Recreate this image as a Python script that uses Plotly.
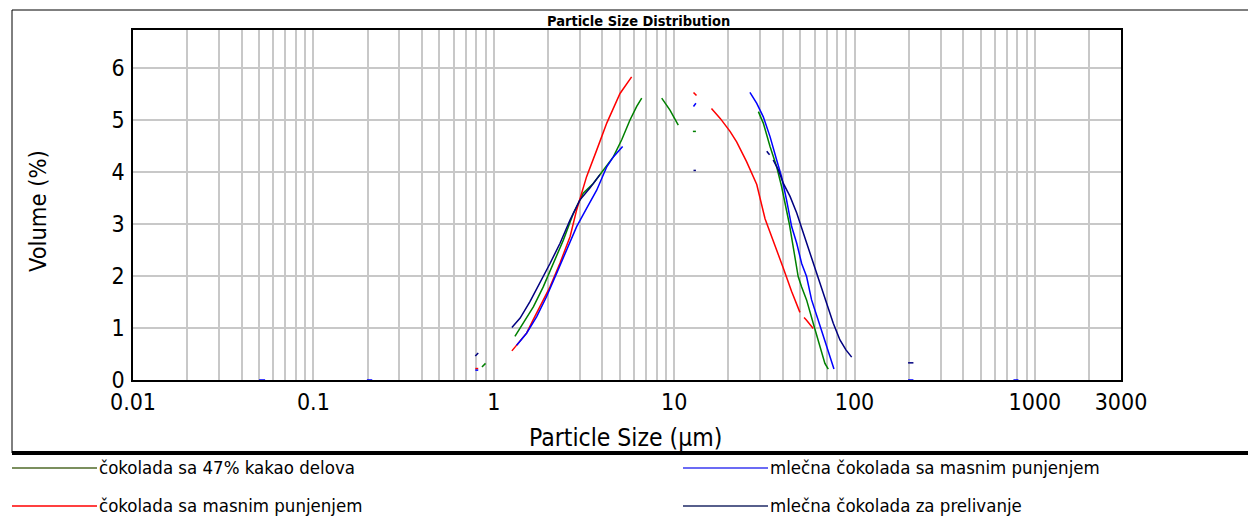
import plotly.graph_objects as go

# ---------------- data ----------------
names = ["čokolada sa 47% kakao delova", "čokolada sa masnim punjenjem",
         "mlečna čokolada sa masnim punjenjem", "mlečna čokolada za prelivanje"]
line_colors = ["#008000", "#FF0000", "#0000FF", "#000080"]
legend_colors = ["#4F6A28", "#FF0000", "#3A3AF0", "#1F2A66"]

green_x = [0.86, 0.90, None,
           1.31, 1.46, 1.66, 1.88, 2.14, 2.43, 2.76, 3.13, 3.56, 4.05, 4.60, 5.12, 5.69, 6.20, 6.61, None,
           8.53, 9.48, 10.54, None,
           12.7, 13.2, None,
           29.3, 31.2, 34.0, 37.0, 39.4, 42.0, 43.5, 45.7, 48.7, 50.9, 54.2, 59.0, 64.3, 68.5, 71.5]
green_y = [0.25, 0.32, None,
           0.84, 1.09, 1.41, 1.79, 2.24, 2.69, 3.20, 3.59, 3.78, 4.04, 4.29, 4.62, 5.00, 5.26, 5.42, None,
           5.42, 5.19, 4.90, None,
           4.78, 4.78, None,
           5.16, 4.94, 4.49, 4.10, 3.72, 3.27, 3.00, 2.56, 1.99, 1.79, 1.54, 1.09, 0.64, 0.32, 0.21]

red_x = [0.79, 0.82, None,
         1.26, 1.40, 1.52, 1.65, 1.80, 2.05, 2.33, 2.65, 2.88, 3.27, 3.72, 4.23, 5.01, 5.81, None,
         12.8, 13.3, None,
         16.1, 18.0, 20.4, 22.2, 25.2, 28.7, 31.9, 35.4, 40.3, 44.8, 49.8, None,
         52.5, 54.2, 59.0]
red_y = [0.22, 0.22, None,
         0.56, 0.74, 0.90, 1.15, 1.41, 1.79, 2.25, 2.76, 3.27, 3.91, 4.42, 4.94, 5.51, 5.83, None,
         5.53, 5.47, None,
         5.22, 5.03, 4.78, 4.58, 4.20, 3.76, 3.10, 2.69, 2.15, 1.70, 1.30, None,
         1.20, 1.15, 0.99]

blue_x = [0.050, 0.054, None, 0.198, 0.212, None, 0.79, 0.82, None,
          1.34, 1.52, 1.73, 1.96, 2.23, 2.54, 2.88, 3.27, 3.72, 4.23, 4.60, 5.18, None,
          12.8, 13.2, None,
          26.3, 28.7, 31.2, 34.0, 37.0, 39.4, 42.0, 44.8, 47.8, 50.9, 54.2, 57.8, 62.9, 68.5, 73.1, 76.9, None,
          198, 212, None, 760, 810]
blue_y = [0.0, 0.0, None, 0.0, 0.0, None, 0.19, 0.19, None,
          0.67, 0.90, 1.22, 1.60, 2.05, 2.50, 2.95, 3.30, 3.65, 4.10, 4.29, 4.49, None,
          5.26, 5.32, None,
          5.53, 5.32, 5.06, 4.68, 4.23, 3.91, 3.46, 2.95, 2.63, 2.24, 1.99, 1.54, 1.15, 0.77, 0.45, 0.21, None,
          0.0, 0.0, None, 0.0, 0.0]

navy_x = [0.79, 0.82, None,
          1.26, 1.40, 1.59, 1.80, 2.05, 2.33, 2.65, 3.00, 3.41, 3.88, None,
          12.8, 13.2, None,
          32.6, 33.8, None,
          35.4, 37.8, 40.3, 43.9, 47.8, 52.0, 55.4, 59.0, 64.3, 70.0, 76.2, 83.0, 89.6, 96.4, None,
          198, 212]
navy_y = [0.46, 0.52, None,
          1.01, 1.19, 1.51, 1.86, 2.24, 2.63, 3.08, 3.46, 3.69, 3.95, None,
          4.03, 4.03, None,
          4.40, 4.33, None,
          4.23, 4.04, 3.78, 3.53, 3.21, 2.82, 2.56, 2.24, 1.86, 1.47, 1.09, 0.77, 0.58, 0.44, None,
          0.33, 0.33]

series_x = [green_x, red_x, blue_x, navy_x]
series_y = [green_y, red_y, blue_y, navy_y]

x_tick_labels = ["0.01", "0.1", "1", "10", "100", "1000", "3000"]
y_tick_labels = ["0", "1", "2", "3", "4", "5", "6"]

FONT = "DejaVu Sans Condensed, Liberation Sans Narrow, DejaVu Sans, sans-serif"

# grid positions: 1..9 of every decade from 0.01 to 2000
grid_vals = []
for e in range(-2, 4):
    for m in range(1, 10):
        v = m * 10 ** e
        if v <= 2000.0001:
            grid_vals.append(round(v, 6))
tickvals = grid_vals + [3000.0]
ticktext = []
for v in tickvals:
    lab = ""
    for t in x_tick_labels:
        if abs(float(t) - v) < 1e-9 * max(1, v):
            lab = t
    ticktext.append(lab)

W, H = 1248, 516
PL, PR, PT, PB = 133, 1121, 30, 380   # plot area in pixels

def fx(X):
    return (X - PL) / (PR - PL)

def fy(Y):
    return (PB - Y) / (PB - PT)

fig = go.Figure()
for n, xs, ys, c in zip(names, series_x, series_y, line_colors):
    fig.add_trace(go.Scatter(x=xs, y=ys, mode="lines", name=n,
                             line=dict(color=c, width=1.5),
                             connectgaps=False, showlegend=False))

fig.update_layout(
    width=W, height=H,
    margin=dict(l=PL, r=W - PR, t=PT, b=H - PB, autoexpand=False),
    paper_bgcolor="white", plot_bgcolor="white",
    font=dict(family=FONT, color="black"),
    showlegend=False,
)
fig.update_xaxes(type="log", range=[-2, 3.4771], tickvals=tickvals, ticktext=ticktext,
                 showgrid=True, gridcolor="#c8c8c8", gridwidth=1.5,
                 showline=True, linecolor="black", linewidth=2, mirror=True,
                 ticks="", tickfont=dict(size=23, family=FONT), automargin=False,
                 zeroline=False)
fig.update_yaxes(range=[0, 6.73], tickvals=[float(t) for t in y_tick_labels], ticktext=y_tick_labels,
                 showgrid=True, gridcolor="#c8c8c8", gridwidth=1.5,
                 showline=True, linecolor="black", linewidth=1.5, mirror=True,
                 ticks="", tickfont=dict(size=23, family=FONT), ticklabelstandoff=2, automargin=False,
                 zeroline=False)

# title and axis titles
fig.add_annotation(xref="paper", yref="paper", x=fx(638), y=fy(21), text="<b>Particle Size Distribution</b>",
                   showarrow=False, xanchor="center", yanchor="middle",
                   font=dict(size=14.5, family="DejaVu Sans Condensed, DejaVu Sans", color="black"))
fig.add_annotation(xref="paper", yref="paper", x=fx(625), y=fy(437), text="Particle Size (µm)",
                   showarrow=False, xanchor="center", yanchor="middle",
                   font=dict(size=24.5, family=FONT, color="black"))
fig.add_annotation(xref="paper", yref="paper", x=fx(38), y=fy(211), text="Volume (%)", textangle=-90,
                   showarrow=False, xanchor="center", yanchor="middle",
                   font=dict(size=23.5, family=FONT, color="black"))

# outer frame
fig.add_shape(type="line", xref="paper", yref="paper", x0=fx(12), x1=fx(1248), y0=fy(10), y1=fy(10),
              line=dict(color="black", width=1))
fig.add_shape(type="line", xref="paper", yref="paper", x0=fx(12), x1=fx(12), y0=fy(10), y1=fy(453),
              line=dict(color="black", width=1))
fig.add_shape(type="line", xref="paper", yref="paper", x0=fx(12), x1=fx(1248), y0=fy(453), y1=fy(453),
              line=dict(color="black", width=4))

# legend (manual, 2 columns)
leg_pos = [(12, 467), (12, 505), (683, 467), (683, 505)]
for n, c, (lx, ly) in zip(names, legend_colors, leg_pos):
    fig.add_shape(type="line", xref="paper", yref="paper", x0=fx(lx), x1=fx(lx + 85),
                  y0=fy(ly + 1), y1=fy(ly + 1), line=dict(color=c, width=1.5))
    fig.add_annotation(xref="paper", yref="paper", x=fx(lx + 85), y=fy(ly), text=n,
                       showarrow=False, xanchor="left", yanchor="middle",
                       font=dict(size=18.5, family=FONT, color="black"))

fig.write_html("out.html", config={"displayModeBar": False},
               post_script="document.body.style.margin='0';document.body.style.overflow='hidden';")
